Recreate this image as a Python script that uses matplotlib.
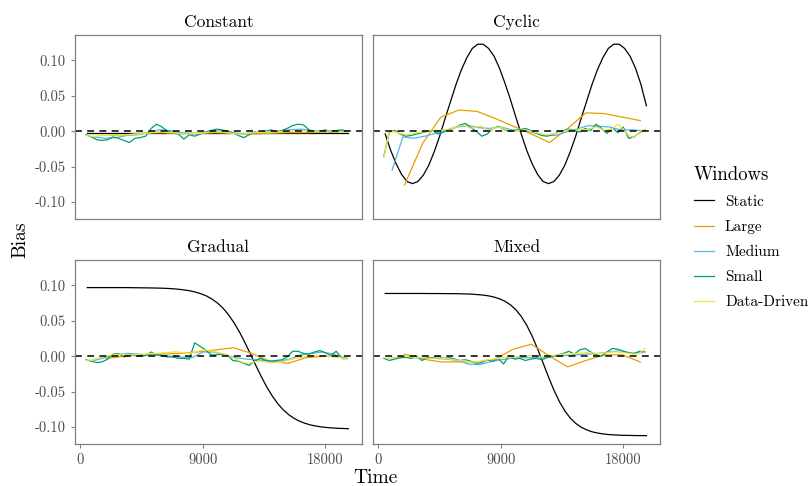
import numpy as np
import matplotlib.pyplot as plt

plt.rcParams['font.family'] = 'cmr10'
plt.rcParams['axes.unicode_minus'] = False
plt.rcParams['mathtext.fontset'] = 'cm'

# time grids for each window type
t_static = np.arange(500, 19701, 400)
t_const_static = [500, 19700]
t_large = [1920, 3250, 4590, 5920, 7250, 8590, 9920, 11250, 12590, 13920, 15250, 16590, 17920, 19250]
t_medium = np.arange(1000, 19401, 800)
t_small = np.arange(400, 19601, 400)

panels = ['Constant', 'Cyclic', 'Gradual', 'Mixed']
windows = ['Static', 'Large', 'Medium', 'Small', 'Data-Driven']
colors = ['#000000', '#E69F00', '#56B4E9', '#009E73', '#F0E442']

# --- Constant
const_static = [-0.003, -0.003]
const_large = [-0.006, -0.005, -0.003, -0.002, -0.003, -0.003, -0.002, -0.003, -0.004, -0.003,
               -0.002, -0.002, -0.001, -0.001]
const_medium = [-0.008, -0.010, -0.009, -0.006, -0.005, -0.002, 0.002, 0.001, -0.002, -0.004,
                -0.003, 0.000, 0.001, -0.003, -0.004, -0.002, -0.001, 0.000, 0.002, 0.003,
                0.001, 0.000, 0.001, 0.000]
const_small = [-0.005, -0.008, -0.012, -0.013, -0.012, -0.008, -0.010, -0.013, -0.016, -0.010,
               -0.009, -0.007, 0.004, 0.010, 0.006, 0.000, -0.002, -0.004, -0.011, -0.005,
               -0.007, -0.004, -0.001, 0.001, 0.003, 0.002, 0.000, -0.002, -0.006, -0.009,
               -0.005, -0.001, -0.002, 0.000, 0.002, -0.001, 0.001, 0.004, 0.008, 0.010,
               0.009, 0.002, -0.001, 0.000, 0.002, -0.001, 0.001, 0.002, 0.000]
const_dd = [-0.006, -0.007, -0.007, -0.006, -0.006, -0.005, -0.005, -0.005, -0.005, -0.004,
            -0.004, -0.003, -0.002, -0.001, -0.001, -0.002, -0.002, -0.003, -0.004, -0.004,
            -0.003, -0.003, -0.002, -0.001, -0.001, -0.001, -0.002, -0.003, -0.004, -0.004,
            -0.003, -0.002, -0.002, -0.001, -0.001, -0.001, 0.000, 0.000, 0.000, 0.001,
            0.001, 0.000, -0.001, 0.000, 0.000, 0.000, 0.000, -0.001, -0.001]

# --- Cyclic
cyc_static = [-0.004, -0.027, -0.046, -0.061, -0.071, -0.074, -0.071, -0.062, -0.048, -0.029,
              -0.007, 0.018, 0.042, 0.066, 0.087, 0.104, 0.117, 0.123, 0.123, 0.117,
              0.106, 0.089, 0.068, 0.045, 0.020, -0.004, -0.027, -0.046, -0.061, -0.071,
              -0.074, -0.071, -0.062, -0.048, -0.029, -0.007, 0.018, 0.042, 0.066, 0.087,
              0.104, 0.117, 0.123, 0.123, 0.117, 0.106, 0.089, 0.066, 0.036]
cyc_large = [-0.076, -0.017, 0.020, 0.030, 0.028, 0.018, 0.007, -0.004, -0.016, 0.004,
             0.026, 0.025, 0.020, 0.015]
cyc_medium = [-0.055, -0.008, -0.010, -0.007, -0.003, 0.002, 0.006, 0.008, 0.005, 0.004,
              0.006, 0.002, 0.001, -0.002, -0.005, -0.006, -0.001, 0.003, 0.008, 0.007,
              0.006, 0.002, 0.002, 0.001]
cyc_small = [-0.035, -0.001, 0.001, -0.004, -0.007, -0.006, -0.004, -0.002, 0.000, 0.001,
             -0.004, -0.001, 0.002, 0.005, 0.009, 0.011, 0.005, 0.000, -0.007, -0.004,
             0.004, 0.007, 0.003, 0.000, 0.001, 0.002, 0.004, 0.001, -0.003, -0.006,
             -0.007, -0.005, -0.001, 0.001, 0.003, 0.001, -0.001, 0.004, 0.001, 0.010,
             0.004, -0.003, 0.005, -0.002, 0.006, -0.010, -0.008, -0.002, 0.002]
cyc_dd = [-0.037, 0.000, -0.001, -0.003, -0.005, -0.004, -0.002, -0.001, 0.001, 0.002,
          0.001, 0.002, 0.003, 0.005, 0.008, 0.008, 0.004, 0.006, 0.007, 0.001,
          0.004, 0.006, 0.004, 0.001, 0.000, 0.001, 0.002, 0.000, -0.002, -0.004,
          -0.005, -0.004, -0.002, 0.000, 0.002, 0.000, 0.003, 0.002, 0.004, 0.006,
          0.003, 0.001, 0.004, 0.010, 0.003, -0.006, -0.009, -0.001, 0.003]

# --- Gradual
grad_static = [0.097, 0.097, 0.097, 0.097, 0.097, 0.097, 0.097, 0.097, 0.0969, 0.0968,
               0.0967, 0.0966, 0.0965, 0.0963, 0.0961, 0.0957, 0.0952, 0.0945, 0.0935, 0.0923,
               0.0904, 0.0880, 0.0849, 0.0804, 0.0748, 0.0676, 0.0583, 0.0471, 0.0340, 0.0190,
               0.0031, -0.0132, -0.0289, -0.0435, -0.0561, -0.0668, -0.0755, -0.0824, -0.0877, -0.0917,
               -0.0947, -0.0970, -0.0986, -0.0998, -0.1007, -0.1013, -0.1018, -0.1021, -0.1024]
grad_large = [-0.003, 0.000, 0.002, 0.003, 0.004, 0.006, 0.009, 0.012, 0.004, -0.007,
              -0.010, -0.002, 0.000, -0.001]
grad_medium = [-0.006, -0.002, 0.002, 0.004, 0.003, 0.001, 0.002, 0.000, -0.001, -0.002,
               0.006, 0.006, 0.002, -0.002, -0.004, -0.005, -0.007, -0.007, -0.004, 0.002,
               0.004, 0.006, 0.003, -0.004]
grad_small = [-0.005, -0.007, -0.009, -0.008, -0.004, 0.003, 0.004, -0.001, 0.003, 0.001,
              0.000, 0.001, 0.006, 0.002, 0.001, -0.001, -0.001, -0.003, -0.003, -0.004,
              0.019, 0.014, 0.009, 0.002, 0.002, 0.003, 0.002, -0.006, -0.007, -0.010,
              -0.013, -0.007, -0.003, -0.006, -0.007, -0.006, -0.005, -0.001, 0.007, 0.007,
              0.004, 0.003, 0.006, 0.008, 0.005, 0.001, 0.007, -0.002, -0.003]
grad_dd = [-0.006, -0.005, -0.003, -0.001, 0.001, 0.002, 0.003, 0.003, 0.002, 0.002,
           0.003, 0.003, 0.004, 0.004, 0.005, 0.005, 0.006, 0.006, 0.005, 0.004,
           0.006, 0.008, 0.009, 0.007, 0.006, 0.004, 0.002, -0.002, -0.006, -0.009,
           -0.010, -0.008, -0.007, -0.008, -0.009, -0.009, -0.008, -0.006, -0.004, -0.002,
           -0.001, 0.000, 0.001, 0.001, 0.000, 0.000, -0.001, -0.002, -0.004]

# --- Mixed
mix_static = [0.0887, 0.0887, 0.0887, 0.0887, 0.0887, 0.0887, 0.0887, 0.0887, 0.0886, 0.0886,
              0.0886, 0.0885, 0.0885, 0.0884, 0.0882, 0.0880, 0.0877, 0.0871, 0.0864, 0.0853,
              0.0836, 0.0812, 0.0777, 0.0727, 0.0658, 0.0563, 0.0439, 0.0285, 0.0104, -0.0093,
              -0.0292, -0.0478, -0.0640, -0.0771, -0.0873, -0.0948, -0.1002, -0.1040, -0.1067, -0.1085,
              -0.1097, -0.1106, -0.1111, -0.1115, -0.1118, -0.1119, -0.1121, -0.1121, -0.1122]
mix_large = [0.003, -0.004, -0.008, -0.008, -0.008, -0.004, 0.010, 0.017, 0.000, -0.015,
             -0.006, 0.002, 0.002, -0.008]
mix_medium = [-0.002, -0.002, -0.002, -0.003, -0.003, -0.004, -0.006, -0.011, -0.012, -0.008,
              -0.005, -0.003, -0.002, -0.002, -0.002, 0.000, 0.001, 0.002, 0.003, 0.004,
              0.006, 0.008, 0.004, 0.005]
mix_small = [-0.003, -0.006, -0.004, -0.002, -0.001, -0.003, 0.000, -0.006, -0.002, -0.002,
             0.000, -0.003, -0.002, -0.004, -0.006, -0.005, -0.007, -0.010, -0.009, -0.005,
             -0.007, -0.003, -0.011, 0.001, -0.004, -0.003, -0.006, -0.004, -0.003, -0.005,
             -0.002, 0.000, 0.002, 0.004, 0.007, 0.003, 0.009, 0.011, 0.006, 0.002,
             0.000, 0.006, 0.011, 0.010, 0.007, 0.005, 0.004, 0.007, 0.006]
mix_dd = [-0.002, -0.003, -0.002, 0.000, 0.000, -0.001, -0.002, -0.002, -0.003, -0.003,
          -0.002, -0.003, -0.004, -0.005, -0.006, -0.007, -0.008, -0.008, -0.007, -0.005,
          -0.004, -0.003, -0.002, -0.001, -0.001, 0.000, 0.000, 0.001, 0.000, -0.001,
          0.000, 0.001, 0.002, 0.003, 0.003, 0.004, 0.004, 0.005, 0.005, 0.004,
          0.004, 0.005, 0.006, 0.006, 0.005, 0.004, 0.003, 0.004, 0.011]

series = {
    'Constant': [(t_const_static, const_static), (t_large, const_large), (t_medium, const_medium),
                 (t_small, const_small), (t_small, const_dd)],
    'Cyclic': [(t_static, cyc_static), (t_large, cyc_large), (t_medium, cyc_medium),
               (t_small, cyc_small), (t_small, cyc_dd)],
    'Gradual': [(t_static, grad_static), (t_large, grad_large), (t_medium, grad_medium),
                (t_small, grad_small), (t_small, grad_dd)],
    'Mixed': [(t_static, mix_static), (t_large, mix_large), (t_medium, mix_medium),
              (t_small, mix_small), (t_small, mix_dd)],
}

W, H = 810, 486
fig = plt.figure(figsize=(W / 100, H / 100), dpi=100)

# panel boxes in pixels: left, top, right, bottom
boxes = {'Constant': (75, 35, 362, 219), 'Cyclic': (373, 35, 660, 219),
         'Gradual': (75, 260, 362, 444), 'Mixed': (373, 260, 660, 444)}

grey_txt = '#4D4D4D'
grey_line = '#7F7F7F'

for name in panels:
    l, t, r, b = boxes[name]
    ax = fig.add_axes([l / W, 1 - b / H, (r - l) / W, (b - t) / H])
    handles = []
    for (tt, vv), lab, col in zip(series[name], windows, colors):
        h, = ax.plot(tt, vv, color=col, lw=0.9, label=lab)
        handles.append(h)
    ax.axhline(0, color='black', lw=1.1, ls=(0, (4.5, 3.5)))
    ax.set_xlim(-400, 20700)
    ax.set_ylim(-0.124, 0.136)
    ax.set_xticks([0, 9000, 18000])
    ax.set_yticks([-0.10, -0.05, 0.0, 0.05, 0.10])
    ax.set_yticklabels(['-0.10', '-0.05', '0.00', '0.05', '0.10'])
    ax.tick_params(colors=grey_line, labelcolor=grey_txt, labelsize=10.5, length=3, width=0.8)
    if name in ('Constant', 'Cyclic'):
        ax.tick_params(axis='x', bottom=False, labelbottom=False)
    if name in ('Cyclic', 'Mixed'):
        ax.tick_params(axis='y', left=False, labelleft=False)
    for sp in ax.spines.values():
        sp.set_color(grey_line)
        sp.set_linewidth(0.9)
    ax.set_title(name, fontsize=12.5, pad=6)

fig.text(20 / W, 1 - 240 / H, 'Bias', rotation=90, ha='center', va='center', fontsize=14)
fig.text(375 / W, 1 - 478 / H, 'Time', ha='center', va='center', fontsize=14)

leg = fig.legend(handles, windows, loc='upper left', bbox_to_anchor=(680 / W, 1 - 152 / H),
                 frameon=False, title='Windows', title_fontsize=13.5, fontsize=11,
                 handlelength=1.3, handletextpad=0.75, labelspacing=0.74, alignment='left')

fig.savefig('out.png', dpi=100)
